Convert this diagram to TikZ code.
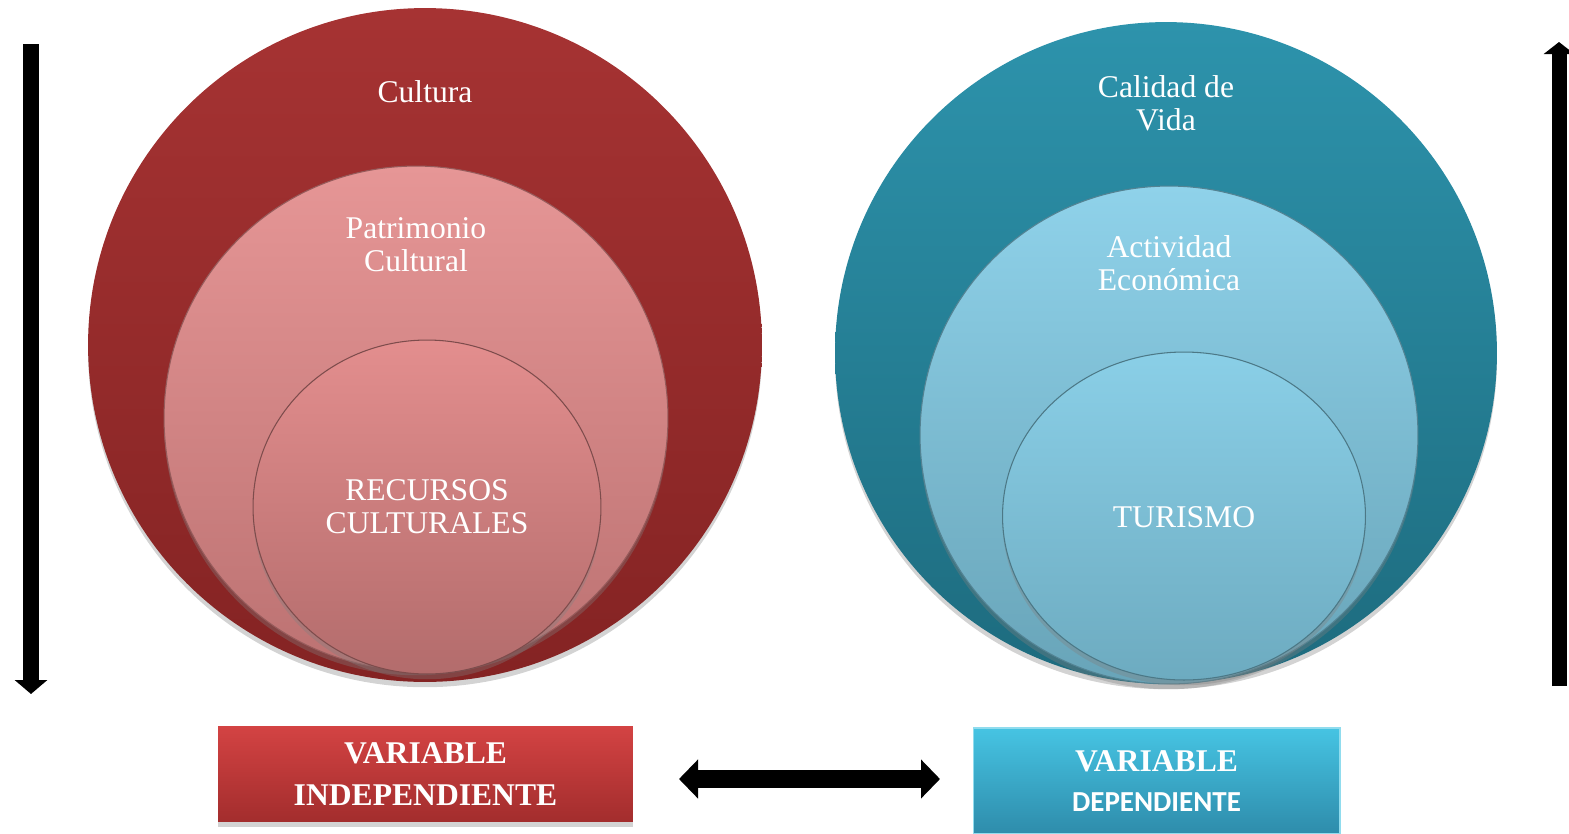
\documentclass[tikz,border=0pt]{standalone}
\usepackage{fontspec}
\setmainfont{Liberation Serif}
\newfontfamily\calib{Carlito}
\usetikzlibrary{shapes.geometric,shadows,arrows.meta}
\definecolor{loutT}{HTML}{A63333}
\definecolor{loutB}{HTML}{842323}
\definecolor{lmidT}{HTML}{E69696}
\definecolor{lmidB}{HTML}{BC7272}
\definecolor{linT}{HTML}{E38E8E}
\definecolor{linB}{HTML}{B36C6C}
\definecolor{routT}{HTML}{2D93AC}
\definecolor{routB}{HTML}{1D6B7E}
\definecolor{rmidT}{HTML}{8FD2EA}
\definecolor{rmidB}{HTML}{68A4B8}
\definecolor{rinT}{HTML}{8ACFE7}
\definecolor{rinB}{HTML}{6DABC0}
\definecolor{lboxT}{HTML}{D34343}
\definecolor{lboxB}{HTML}{A32D2D}
\definecolor{rboxT}{HTML}{46C4E3}
\definecolor{rboxB}{HTML}{2E8CAB}
\tikzset{
  disc/.style={circle, inner sep=0pt, minimum size=#1},
  oval/.style 2 args={ellipse, inner sep=0pt, minimum width=#1, minimum height=#2},
  soft/.style={drop shadow={opacity=0.35, shadow xshift=0pt, shadow yshift=-3pt}},
  rim/.style={draw=#1, line width=0.6pt},
  lbl/.style={text=white, align=center, font=\fontsize{18}{18.7}\selectfont},
  varbox/.style={rectangle, inner sep=0pt, text=white, align=center},
  bigarrow/.style={line width=0.32cm, -{Triangle[width=0.64cm,length=0.28cm]}},
}
\begin{document}
\begin{tikzpicture}[x=0.02cm,y=-0.02cm]
\useasboundingbox (0,0) rectangle (1569,833);
% left circles
\node[disc=13.48cm, top color=loutT, bottom color=loutB, soft] (lout) at (425,345) {};
\node[disc=10.08cm, top color=lmidT, bottom color=lmidB, rim=lmidB!80!black, soft] (lmid) at (416,418) {};
\node[oval={6.96cm}{6.68cm}, top color=linT, bottom color=linB, rim=linB!70!black, soft] (lin) at (427,507) {};
\node[lbl] (tcult) at (425,92) {Cultura};
\node[lbl] (tpat) at (416,245) {Patrimonio\\Cultural};
\node[lbl] (trec) at (427,507) {RECURSOS\\CULTURALES};
% right circles
\node[disc=13.24cm, top color=routT, bottom color=routB, soft] (rout) at (1166,353) {};
\node[disc=9.96cm, top color=rmidT, bottom color=rmidB, rim=rmidB!80!black, soft] (rmid) at (1169,435) {};
\node[oval={7.26cm}{6.56cm}, top color=rinT, bottom color=rinB, rim=rinB!70!black, soft] (rin) at (1184,516) {};
\node[lbl] (tcal) at (1166,103) {Calidad de\\Vida};
\node[lbl] (tact) at (1169,263) {Actividad\\Económica};
\node[lbl] (ttur) at (1184,517) {TURISMO};
% vertical arrows
\coordinate (la1) at (31,44);
\coordinate (la2) at (31,694);
\draw[bigarrow] (la1) -- (la2);
\coordinate (ra1) at (1559,686);
\coordinate (ra2) at (1559,42);
\draw[line width=0.3cm, -{Triangle[width=0.6cm,length=0.24cm]}] (ra1) -- (ra2);
% boxes
\node[varbox, minimum width=8.3cm, minimum height=1.9cm, top color=lboxT, bottom color=lboxB, soft,
      font=\bfseries\fontsize{18}{23.8}\selectfont] (vind) at (425.5,774) {VARIABLE\\INDEPENDIENTE};
\node[varbox, minimum width=7.34cm, minimum height=2.12cm, top color=rboxT, bottom color=rboxB, rim=rboxT!60!white, soft,
      font=\fontsize{18}{22.7}\selectfont] (vdep) at (1156.5,781)
  {{\bfseries VARIABLE}\\{\calib\bfseries\fontsize{16.5}{22.7}\selectfont DEPENDIENTE}};
% double arrow
\coordinate (da1) at (679,779);
\coordinate (da2) at (940,779);
\draw[line width=0.36cm, {Triangle[width=0.76cm,length=0.38cm]}-{Triangle[width=0.76cm,length=0.38cm]}] (da1) -- (da2);
\end{tikzpicture}
\end{document}
